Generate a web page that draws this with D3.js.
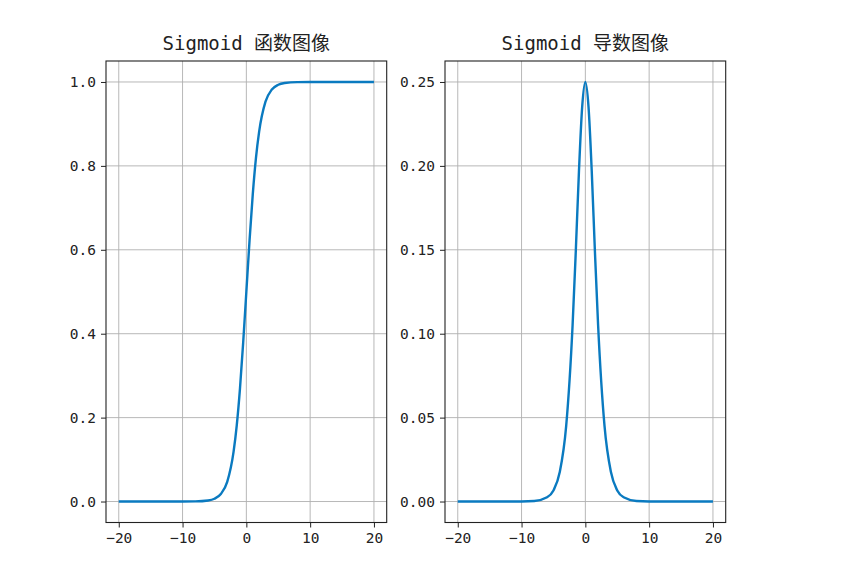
<!DOCTYPE html>
<html lang="zh">
<head>
<meta charset="utf-8">
<script src="https://d3js.org/d3.v7.min.js"></script>
<style>
body { margin: 0; background: #fff; }
.tick text { font-family: "DejaVu Sans Mono", "Noto Sans CJK SC", monospace; font-size: 14.5px; fill: #222; }
.title { font-family: "DejaVu Sans Mono", "Noto Sans CJK SC", monospace; font-size: 19px; fill: #222; }
.grid line { stroke: #b0b0b0; stroke-width: 0.9; }
</style>
</head>
<body>
<svg width="864" height="565"></svg>
<script>
// values
var xs = [-20, -10, -8, -6, -5, -4, -3, -2, -1.5, -1, -0.5, 0, 0.5, 1, 1.5, 2, 3, 4, 5, 6, 8, 10, 20];
var sigmoidY = [0.0, 0.00005, 0.0003, 0.0025, 0.0067, 0.018, 0.047, 0.119, 0.182, 0.269, 0.378, 0.5,
  0.622, 0.731, 0.818, 0.881, 0.953, 0.982, 0.9933, 0.9975, 0.9997, 0.99995, 1.0];
var derivY = [0.0, 0.00005, 0.0003, 0.0025, 0.0066, 0.0177, 0.0452, 0.105, 0.149, 0.197, 0.235, 0.25,
  0.235, 0.197, 0.149, 0.105, 0.0452, 0.0177, 0.0066, 0.0025, 0.0003, 0.00005, 0.0];
var xTicks = [-20, -10, 0, 10, 20];
var leftTicks = [0.0, 0.2, 0.4, 0.6, 0.8, 1.0];
var rightTicks = [0.00, 0.05, 0.10, 0.15, 0.20, 0.25];
var titles = ["Sigmoid 函数图像", "Sigmoid 导数图像"];

var svg = d3.select("svg");
var plotTop = 61, plotBottom = 522.5;

function panel(left, right, ys, yTicks, yFmt, title) {
  var x = d3.scaleLinear().domain([-22, 22]).range([left, right]);
  var ymax = d3.max(ys);
  var pad = ymax * 0.05;
  var y = d3.scaleLinear().domain([-pad, ymax + pad]).range([plotBottom, plotTop]);
  var g = svg.append("g");

  // grid
  var grid = g.append("g").attr("class", "grid");
  grid.selectAll(".vx").data(xTicks).enter().append("line")
    .attr("x1", function(d) { return x(d); }).attr("x2", function(d) { return x(d); })
    .attr("y1", plotTop).attr("y2", plotBottom);
  grid.selectAll(".hy").data(yTicks).enter().append("line")
    .attr("y1", function(d) { return y(d); }).attr("y2", function(d) { return y(d); })
    .attr("x1", left).attr("x2", right);

  // curve
  var pts = xs.map(function(d, i) { return [d, ys[i]]; });
  g.append("path")
    .datum(pts)
    .attr("fill", "none")
    .attr("stroke", "#0a7ac0")
    .attr("stroke-width", 2.4)
    .attr("d", d3.line()
      .x(function(d) { return x(d[0]); })
      .y(function(d) { return y(d[1]); })
      .curve(d3.curveMonotoneX));

  // axes
  var xa = g.append("g").attr("transform", "translate(0," + plotBottom + ")")
    .call(d3.axisBottom(x).tickValues(xTicks).tickSize(5).tickPadding(5)
      .tickFormat(function(d) { return d < 0 ? "\u2212" + Math.abs(d) : d; }));
  var ya = g.append("g").attr("transform", "translate(" + left + ",0)")
    .call(d3.axisLeft(y).tickValues(yTicks).tickSize(5).tickPadding(5).tickFormat(yFmt));
  [xa, ya].forEach(function(a) {
    a.select(".domain").remove();
    a.selectAll(".tick line").attr("stroke", "#222").attr("stroke-width", 1);
  });

  // frame
  g.append("rect")
    .attr("x", left).attr("y", plotTop)
    .attr("width", right - left).attr("height", plotBottom - plotTop)
    .attr("fill", "none").attr("stroke", "#222").attr("stroke-width", 1.1);

  g.append("text").attr("class", "title")
    .attr("x", (left + right) / 2).attr("y", 50)
    .attr("text-anchor", "middle")
    .text(title);
}

panel(106, 386.7, sigmoidY, leftTicks, d3.format(".1f"), titles[0]);
panel(445, 725.7, derivY, rightTicks, d3.format(".2f"), titles[1]);
</script>
</body>
</html>
